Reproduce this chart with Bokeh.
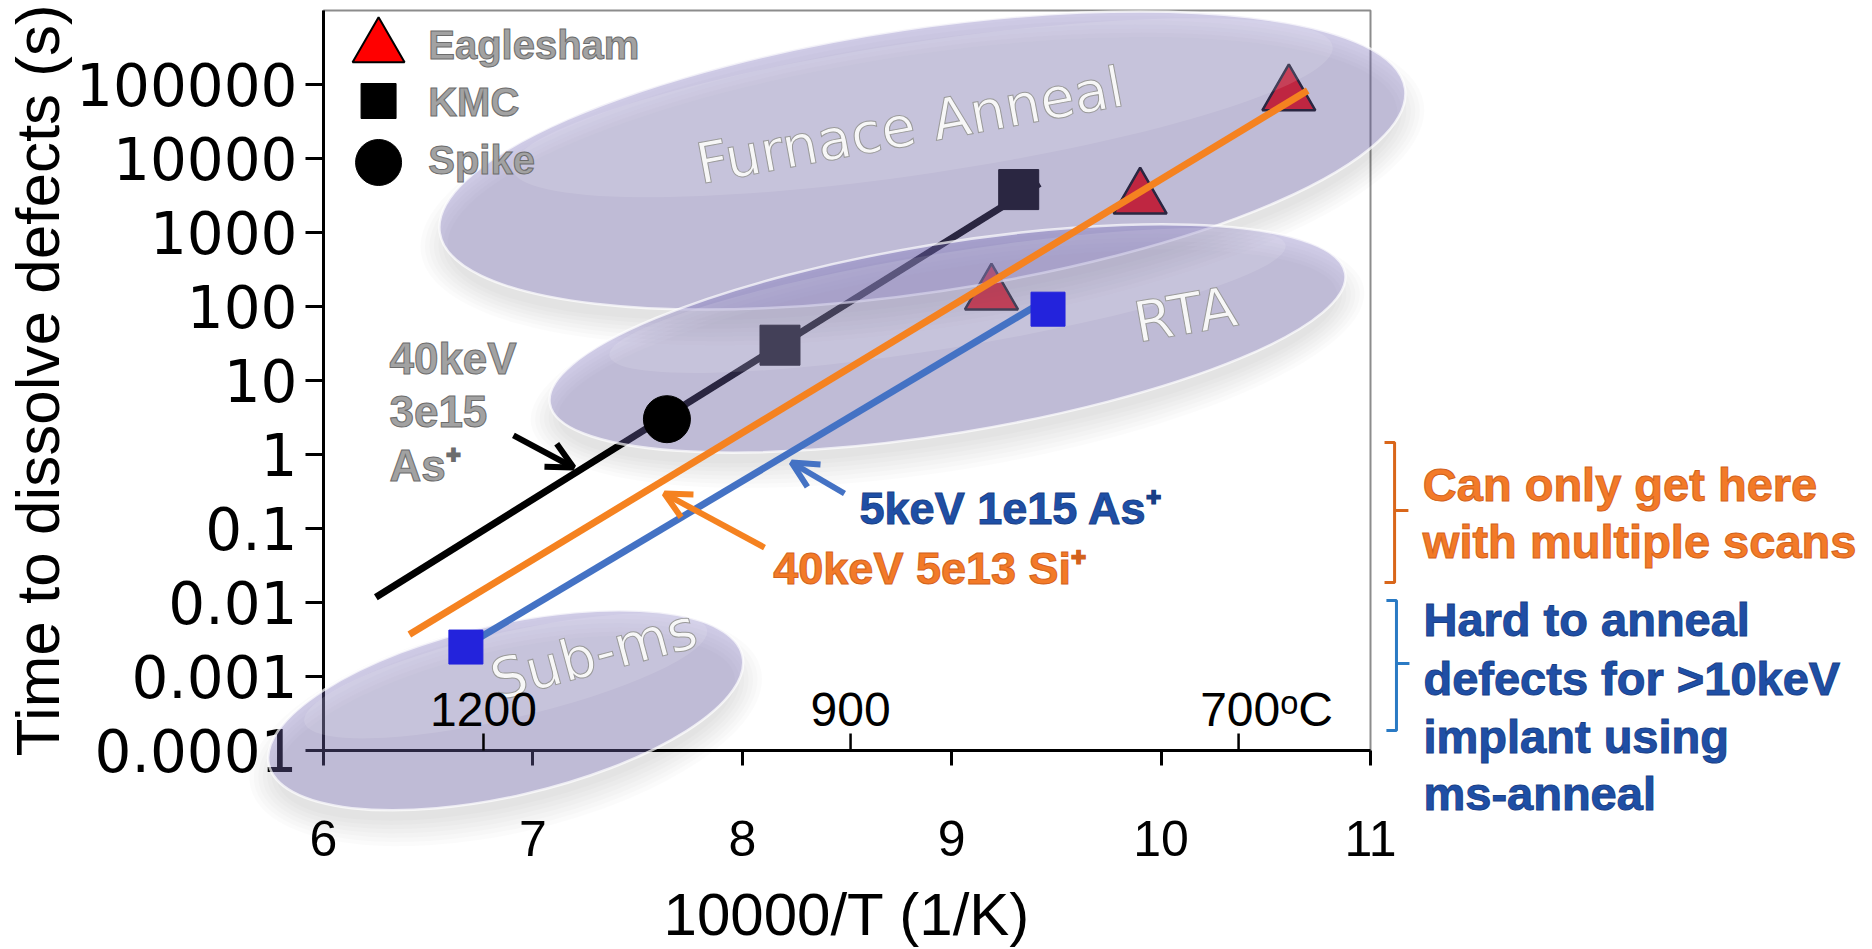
import math

from bokeh.plotting import figure
from bokeh.models import Arrow, OpenHead, FixedTicker, CustomJSTickFormatter, Text
from bokeh.core.properties import value
from bokeh.embed import file_html
from bokeh.resources import INLINE

# ---------------------------------------------------------------- data
# Eaglesham anneal measurements
eaglesham_x = [9.19, 9.90, 10.61]
eaglesham_t = [147, 2900, 72000]
# KMC simulations
kmc_x = [8.18, 9.32]
kmc_t = [30, 3800]
# spike anneal
spike_x = [7.64]
spike_t = [3.0]
# 5keV 1e15 As+ points
as5_x = [6.68, 9.46]
as5_t = [0.0025, 92]

# fitted dissolution-time lines
fit_as40_x = [6.25, 9.42]      # 40keV 3e15 As+
fit_as40_t = [0.0118, 4600]
fit_si40_x = [6.41, 10.70]     # 40keV 5e13 Si+
fit_si40_t = [0.0037, 83000]
fit_as5_x = [6.66, 9.39]       # 5keV 1e15 As+
fit_as5_t = [0.0024, 97]

# axes
x_ticks = [6, 7, 8, 9, 10, 11]
y_ticks = [1e-4, 1e-3, 1e-2, 1e-1, 1, 10, 100, 1000, 1e4, 1e5]
y_tick_labels = ["0.0001", "0.001", "0.01", "0.1", "1", "10", "100",
                 "1000", "10000", "100000"]

# temperature markers along the bottom axis
temp_x = [6.764, 8.517, 10.37]
temp_labels = ["1200", "900", "700\u1d52C"]

# ---------------------------------------------------------------- layout
X_START, X_END = 6, 11
Y_START, Y_END = 1e-4, 1e6
FRAME_W, FRAME_H = 1047, 740
PX_PER_DEC = FRAME_H / (math.log10(Y_END) - math.log10(Y_START))
TEXT_LIFT = 14   # px; raises every annotation text slightly


def lg(v):
    return 10 ** v


p = figure(frame_width=FRAME_W, frame_height=FRAME_H,
           x_range=(X_START, X_END), y_range=(Y_START, Y_END),
           y_axis_type="log", output_backend="svg", toolbar_location=None,
           min_border_left=322, min_border_right=503,
           min_border_top=10, min_border_bottom=199,
           background_fill_color="white", border_fill_color="white")

p.grid.visible = False
p.outline_line_color = "#8c8c8c"
p.outline_line_width = 2

for ax in (p.xaxis[0], p.yaxis[0]):
    ax.axis_line_width = 3
    ax.axis_line_color = "black"
    ax.major_tick_line_width = 3
    ax.major_tick_line_color = "black"
    ax.major_tick_in = 0
    ax.minor_tick_line_color = None
    ax.axis_label_text_font = "Liberation Sans"
    ax.axis_label_text_font_style = "normal"
    ax.axis_label_text_color = "black"
    ax.major_label_text_color = "black"

p.xaxis.ticker = FixedTicker(ticks=x_ticks)
p.xaxis.major_tick_out = 15
p.xaxis.major_label_standoff = 55
p.xaxis.major_label_text_font = "Liberation Sans"
p.xaxis.major_label_text_font_size = "50px"
p.xaxis.axis_label = "10000/T (1/K)"
p.xaxis.axis_label_text_font_size = "60px"
p.xaxis.axis_label_standoff = 22

p.yaxis.ticker = FixedTicker(ticks=y_ticks, minor_ticks=[])
p.yaxis.formatter = CustomJSTickFormatter(
    args=dict(labels=y_tick_labels),
    code="return labels[Math.round(Math.log10(tick)) + 4];")
p.yaxis.major_tick_out = 18
p.yaxis.major_label_standoff = 8
p.yaxis.major_label_text_font = "DejaVu Sans"
p.yaxis.major_label_text_font_size = "58px"
p.yaxis.axis_label = "Time to dissolve defects (s)"
p.yaxis.axis_label_text_font_size = "62px"
p.yaxis.axis_label_standoff = 1

HAS_OUTLINE = "text_outline_color" in Text.properties()


def text(txt, x, y, size, color, font="Liberation Sans", style="bold",
         align="left", angle=0, outline=None, x_offset=0):
    kw = dict(x=[x], y=[y], text=[txt], text_font=value(font),
              text_font_size=value(f"{size}px"),
              text_font_style=value(style), text_color=color,
              text_align=value(align), text_baseline=value("alphabetic"),
              angle=angle, angle_units="deg", x_offset=x_offset,
              y_offset=-TEXT_LIFT, level="overlay")
    if outline is not None and HAS_OUTLINE:
        kw["text_outline_color"] = outline
    p.text(**kw)


# ---------------------------------------------------------------- series under the anneal regions
p.line(fit_as40_x, fit_as40_t, line_color="black", line_width=7)
p.scatter(kmc_x, kmc_t, marker="square", size=40, fill_color="black",
          line_color="black")
p.scatter(eaglesham_x, eaglesham_t, marker="triangle", size=53,
          fill_color="#ff0000", line_color="black", line_width=2.5)

# ---------------------------------------------------------------- anneal regions (translucent ellipses)
regions = [
    # x, t, width px, height px, angle deg
    (8.86, 9400, 976, 264, 8.5),     # furnace anneal
    (8.98, 37, 806, 190, 9.3),       # RTA
    (6.87, 3.5e-4, 486, 172, 13.0),  # sub-ms
]

SHADOW_DROP = 18
for (cx, ct, w, h, a) in regions:
    sy = ct * 10 ** (-SHADOW_DROP / PX_PER_DEC)
    for k in range(7):
        grow = -16 + 9 * k
        p.ellipse(x=cx, y=sy, width=w + grow, height=h + grow, angle=a,
                  width_units="screen", height_units="screen",
                  angle_units="deg", fill_color="#000000", fill_alpha=0.015,
                  line_color=None, level="annotation")

for (cx, ct, w, h, a) in regions:
    p.ellipse(x=cx, y=ct, width=w, height=h, angle=a,
              width_units="screen", height_units="screen", angle_units="deg",
              fill_color="#7a70be", fill_alpha=0.34,
              line_color="white", line_alpha=0.7, line_width=2.5,
              level="annotation")
    # soft sheen on the upper half
    up = ct * 10 ** (0.2 * h / PX_PER_DEC)
    p.ellipse(x=cx, y=up, width=0.85 * w, height=0.5 * h, angle=a,
              width_units="screen", height_units="screen", angle_units="deg",
              fill_color="white", fill_alpha=0.12, line_color=None,
              level="annotation")

# ---------------------------------------------------------------- series above the regions
p.line(fit_si40_x, fit_si40_t, line_color="#f58220", line_width=7,
       level="overlay")
p.line(fit_as5_x, fit_as5_t, line_color="#4472c4", line_width=7,
       level="overlay")
p.scatter(as5_x, as5_t, marker="square", size=34, fill_color="#2323dc",
          line_color="#2323dc", level="overlay")
p.scatter(spike_x, spike_t, marker="circle", size=47, fill_color="black",
          line_color="black", level="overlay")

# region names
for txt, x, t, ang in [("Furnace Anneal", 8.80, lg(4.257), 10.5),
                       ("RTA", 10.116, lg(1.703), 10),
                       ("Sub-ms", 7.29, lg(-2.89), 15)]:
    text(txt, x, t, 56, "#f7f7f7", font="DejaVu Sans", style="normal",
         align="center", angle=ang, outline="#9a9a9a")

# temperature markers
tick_top = Y_START * 10 ** (17 / PX_PER_DEC)
p.segment(x0=temp_x, y0=[Y_START] * len(temp_x), x1=temp_x,
          y1=[tick_top] * len(temp_x), line_color="black", line_width=2.5,
          level="overlay")
for i, (tx, txt) in enumerate(zip(temp_x, temp_labels)):
    text(txt, tx, lg(-3.635), 48, "black", style="normal", align="center",
         x_offset=28 if i == len(temp_x) - 1 else 0)

# ---------------------------------------------------------------- legend
p.scatter([6.263], [lg(5.504)], marker="triangle", size=52,
          fill_color="#ff0000", line_color="black", line_width=2,
          level="overlay")
p.scatter([6.263], [lg(4.777)], marker="square", size=35, fill_color="black",
          line_color="black", level="overlay")
p.scatter([6.263], [lg(3.946)], marker="circle", size=46, fill_color="black",
          line_color="black", level="overlay")
GRAY, GRAY_EDGE = "#a2a2a2", "#6c6c6c"
text("Eaglesham", 6.50, lg(5.338), 40, GRAY, outline=GRAY_EDGE)
text("KMC", 6.50, lg(4.581), 40, GRAY, outline=GRAY_EDGE)
text("Spike", 6.50, lg(3.797), 40, GRAY, outline=GRAY_EDGE)

# ---------------------------------------------------------------- implant annotations and arrows
text("40keV", 6.315, lg(1.108), 44, GRAY, outline=GRAY_EDGE)
text("3e15", 6.315, lg(0.392), 44, GRAY, outline=GRAY_EDGE)
text("As\u207a", 6.315, lg(-0.338), 44, GRAY, outline=GRAY_EDGE)

BLUE_TXT, ORANGE_TXT = "#1f4fa6", "#f37a28"
text("5keV 1e15 As\u207a", 8.56, lg(-0.915), 45, BLUE_TXT, outline="#183f86")
text("40keV 5e13 Si\u207a", 8.148, lg(-1.726), 45, ORANGE_TXT,
     outline="#d2621c")

for (xs, ts, xe, te, col) in [(6.907, 1.81, 7.194, 0.667, "black"),
                              (8.488, 0.297, 8.235, 0.78, "#4472c4"),
                              (8.106, 0.0553, 7.628, 0.297, "#f58220")]:
    p.add_layout(Arrow(x_start=xs, y_start=ts, x_end=xe, y_end=te,
                       line_color=col, line_width=6, level="overlay",
                       end=OpenHead(size=26, line_color=col, line_width=6)))

# ---------------------------------------------------------------- side notes with brackets
p.multi_line(xs=[[11.067, 11.115, 11.115, 11.067], [11.115, 11.181]],
             ys=[[lg(0.162), lg(0.162), lg(-1.730), lg(-1.730)],
                 [lg(-0.757), lg(-0.757)]],
             line_color="#d9661a", line_width=3, level="overlay")
p.multi_line(xs=[[11.076, 11.124, 11.124, 11.076], [11.124, 11.186]],
             ys=[[lg(-1.973), lg(-1.973), lg(-3.730), lg(-3.730)],
                 [lg(-2.824), lg(-2.824)]],
             line_color="#2a7ac4", line_width=3, level="overlay")

text("Can only get here", 11.25, lg(-0.595), 47, ORANGE_TXT,
     outline="#d2621c")
text("with multiple scans", 11.25, lg(-1.365), 47, ORANGE_TXT,
     outline="#d2621c")
for txt, v in [("Hard to anneal", -2.419), ("defects for >10keV", -3.216),
               ("implant using", -4.0), ("ms-anneal", -4.770)]:
    text(txt, 11.253, lg(v), 47, BLUE_TXT, outline="#183f86")

open("out.html", "w").write(file_html(p, INLINE))
